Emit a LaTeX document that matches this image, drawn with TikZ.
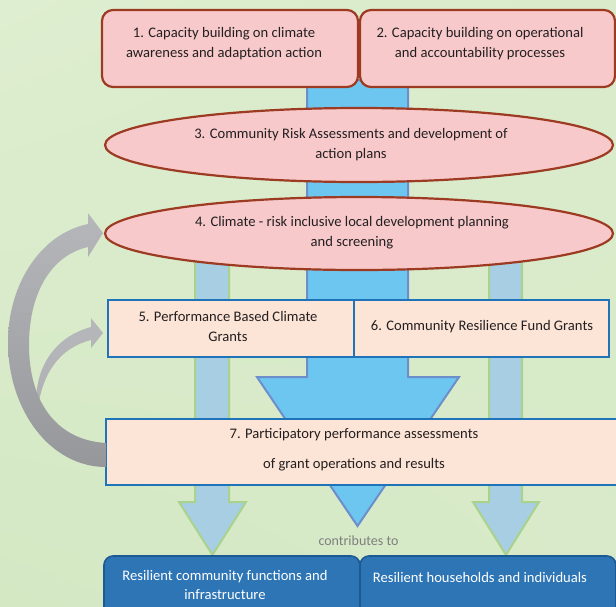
\documentclass[tikz,border=0pt]{standalone}
\usepackage{fontspec}
\setmainfont{Carlito}
\usetikzlibrary{shapes.geometric,shadings}
\definecolor{bgA}{HTML}{DEEED0}
\definecolor{bgB}{HTML}{D4E8C4}
\definecolor{pinkfill}{HTML}{F8C9CB}
\definecolor{brownline}{HTML}{9C3A22}
\definecolor{cblue}{HTML}{6DC6F0}
\definecolor{cblueline}{HTML}{6C8ECB}
\definecolor{sblue}{HTML}{A8CEE3}
\definecolor{sgreen}{HTML}{A9D28C}
\definecolor{peach}{HTML}{FCE4D6}
\definecolor{boxblue}{HTML}{1F73B9}
\definecolor{dblue}{HTML}{2E75B6}
\definecolor{dblueline}{HTML}{1C5A93}
\definecolor{txt}{HTML}{231F20}
\definecolor{grayA}{HTML}{B6B7BB}
\definecolor{grayB}{HTML}{96979B}
\definecolor{ctext}{HTML}{7F7F7F}
\begin{document}
\begin{tikzpicture}[x=1pt,y=-1pt,
  pinkbox/.style={draw=brownline, fill=pinkfill, line width=2.2pt, rounded corners=11pt, inner sep=0pt},
  pinkell/.style={ellipse, draw=brownline, fill=pinkfill, line width=2.2pt, inner sep=0pt},
  peachbox/.style={draw=boxblue, fill=peach, line width=2.4pt, inner sep=0pt},
  darkbox/.style={draw=dblueline, fill=dblue, line width=1.6pt, rounded corners=9pt, inner sep=0pt},
  centerarrow/.style={draw=cblueline, fill=cblue, line width=2pt, line join=miter},
  sidearrow/.style={draw=sgreen, fill=sblue, line width=2pt, line join=miter},
  lbl/.style={text=txt, align=center, font=\fontsize{14.6}{20}\selectfont, inner sep=0pt},
  wlbl/.style={text=white, align=center, font=\fontsize{14.6}{19}\selectfont, inner sep=0pt}]
\useasboundingbox (0,0) rectangle (616,606);
% background
\shade[upper left=bgA, upper right=bgB!50!bgA, lower left=bgB, lower right=bgB!60!bgA] (0,0) rectangle (616,606);
% central arrow
\draw[centerarrow] (307,80) -- (307,377) -- (257,377) -- (357.5,526) -- (459,377) -- (408,377) -- (408,80) -- cycle;
% side arrows
\draw[sidearrow] (195,250) -- (195,502) -- (179,502) -- (212.5,555) -- (246,502) -- (229,502) -- (229,250) -- cycle;
\draw[sidearrow] (489,250) -- (489,502) -- (473,502) -- (506,555) -- (539,502) -- (522,502) -- (522,250) -- cycle;
% top boxes
\node[pinkbox, minimum width=256pt, minimum height=77pt] (b1) at (230,48.5) {};
\node[pinkbox, minimum width=255pt, minimum height=77pt] (b2) at (487.5,48.5) {};
% ellipses
\node[pinkell, minimum width=508pt, minimum height=74pt] (e3) at (359,145) {};
\node[pinkell, minimum width=508pt, minimum height=73pt] (e4) at (359,233.5) {};
% grant boxes
\node[peachbox, minimum width=246pt, minimum height=57pt] (b5) at (231,328.5) {};
\node[peachbox, minimum width=255pt, minimum height=57pt] (b6) at (481.5,328.5) {};
\node[peachbox, minimum width=520pt, minimum height=66pt] (b7) at (366,452) {};
% bottom boxes
\node[darkbox, minimum width=256pt, minimum height=60pt] (ra) at (232,586) {};
\node[darkbox, minimum width=256pt, minimum height=60pt] (rb) at (488,586) {};
% gray feedback arrows
\shade[top color=grayA, bottom color=grayA!80!grayB]
  (37,413) .. controls (32,375) and (50,338) .. (91,327)
  -- (91,318) -- (103,333) -- (91,348) -- (91,340)
  .. controls (60,348) and (42,372) .. (37,413) -- cycle;
\shade[top color=grayA, bottom color=grayB]
  (106,443) .. controls (55,440) and (29,400) .. (29,345)
  .. controls (29,292) and (52,255) .. (88,247)
  -- (88,257) -- (103,233) -- (88,213) -- (88,224)
  .. controls (40,234) and (8,285) .. (8,342)
  .. controls (8,410) and (50,467) .. (106,467) -- cycle;
% texts
\node[lbl] (t1) at (224,44) {1. Capacity building on climate\\awareness and adaptation action};
\node[lbl] (t2) at (480,44) {2. Capacity building on operational\\and accountability processes};
\node[lbl] (t3) at (351,145) {3. Community Risk Assessments and development of\\action plans};
\node[lbl] (t4) at (352,233) {4. Climate - risk inclusive local development planning\\and screening};
\node[lbl] (t5) at (228,326) {5. Performance Based Climate\\Grants};
\node[lbl] (t6) at (482,327) {6. Community Resilience Fund Grants};
\node[lbl, font=\fontsize{14.6}{30}\selectfont] (t7) at (354,450) {7. Participatory performance assessments\\of grant operations and results};
\node[text=ctext, font=\fontsize{14}{16}\selectfont, inner sep=0pt] (tc) at (358.5,541) {contributes to};
\node[wlbl] (ta) at (225,585) {Resilient community functions and\\infrastructure};
\node[wlbl] (tb) at (480,577) {Resilient households and individuals};
\end{tikzpicture}
\end{document}
